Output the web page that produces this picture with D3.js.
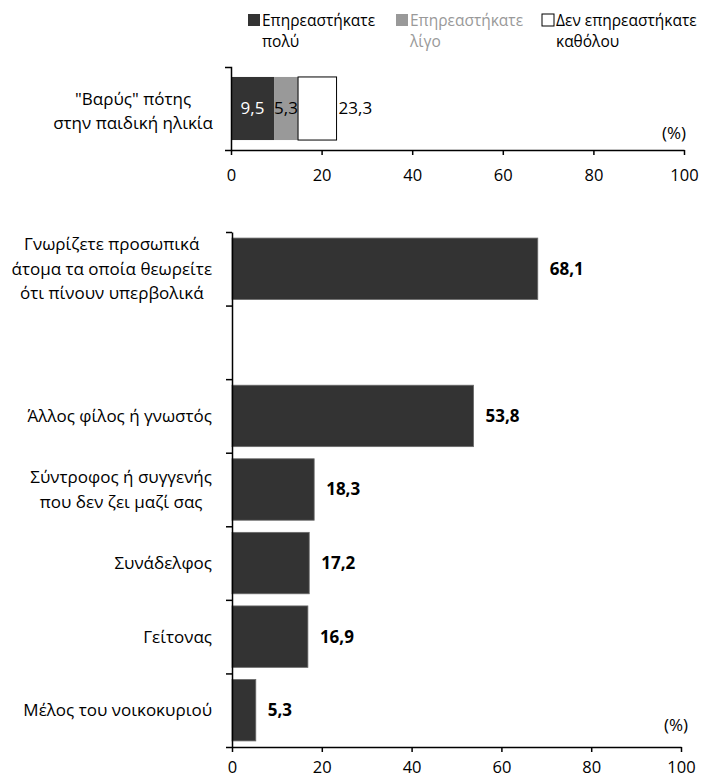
<!DOCTYPE html>
<html>
<head>
<meta charset="utf-8">
<script src="https://cdn.jsdelivr.net/npm/d3@7/dist/d3.min.js"></script>
<style>
  html, body { margin: 0; padding: 0; background: #fff; }
  svg text { font-family: "Open Sans", "Noto Sans", sans-serif; fill: #000; }
</style>
</head>
<body>
<svg id="chart" width="706" height="780"></svg>
<script>
// ---- data ----
const seriesNames = [["Επηρεαστήκατε", "πολύ"], ["Επηρεαστήκατε", "λίγο"], ["Δεν επηρεαστήκατε", "καθόλου"]];
const topCategory = ["\"Βαρύς\" πότης", "στην παιδική ηλικία"];
const affectedMuch = [9.5];
const affectedLittle = [5.3];
const notAffected = [8.5];

const categories = [
  ["Γνωρίζετε προσωπικά", "άτομα τα οποία θεωρείτε", "ότι πίνουν υπερβολικά"],
  [],
  ["Άλλος φίλος ή γνωστός"],
  ["Σύντροφος ή συγγενής", "που δεν ζει μαζί σας"],
  ["Συνάδελφος"],
  ["Γείτονας"],
  ["Μέλος του νοικοκυριού"]
];
const shares = [68.1, null, 53.8, 18.3, 17.2, 16.9, 5.3];
const tickValues = [0, 20, 40, 60, 80, 100];
const unitLabel = "(%)";

// ---- styling ----
const FS = 17;
const dark = "#333333", grey = "#999999";
const fmt = v => d3.format(".1f")(v).replace(".", ",");

const svg = d3.select("#chart");

function txt(g, x, y, s, o = {}) {
  const t = g.append("text")
    .attr("x", x).attr("y", y)
    .attr("font-size", o.size || FS)
    .attr("text-anchor", o.anchor || "start")
    .attr("dy", o.dy == null ? "0.35em" : o.dy)
    .text(s);
  if (o.bold) t.attr("font-weight", "bold");
  if (o.fill) t.style("fill", o.fill);
  return t;
}

// right-aligned block of centred lines
function labelBlock(g, right, cy, lines, lh) {
  const tmp = lines.map(l => txt(g, 0, 0, l, { anchor: "middle" }));
  const w = d3.max(tmp, t => t.node().getComputedTextLength()) || 0;
  tmp.forEach(t => t.remove());
  const cx = right - w / 2;
  lines.forEach((l, i) => txt(g, cx, cy + (i - (lines.length - 1) / 2) * lh, l, { anchor: "middle" }));
}

function styleAxis(g) {
  g.select(".domain").attr("stroke", "#000").attr("stroke-width", 1.5);
  g.selectAll(".tick line").attr("stroke", "#000").attr("stroke-width", 1.5);
  g.selectAll(".tick text")
    .attr("font-size", 16.5)
    .attr("font-family", "\"Open Sans\", sans-serif");
}

// ---- legend ----
const legX = [248, 396, 542];
const legFill = [dark, grey, "#fff"];
const legText = ["#000", grey, "#000"];
seriesNames.forEach((n, i) => {
  svg.append("rect").attr("x", legX[i]).attr("y", 14).attr("width", 12).attr("height", 12)
    .attr("fill", legFill[i]).attr("stroke", i === 2 ? "#000" : "none").attr("stroke-width", 1);
  n.forEach((line, j) => txt(svg, legX[i] + 14, 26 + j * 21, line, { size: 15.5, dy: 0, fill: legText[i] }));
});

// ---- upper panel: stacked bar ----
const xTop = d3.scaleLinear().domain([0, 100]).range([231, 684]);
const yTop = d3.scaleBand().domain([0]).range([67, 150]).paddingInner(0.24).paddingOuter(0.12);
const upper = svg.append("g");

const stackData = [{ much: affectedMuch[0], little: affectedLittle[0], none: notAffected[0] }];
const stacked = d3.stack().keys(["much", "little", "none"])(stackData);
const segFill = [dark, grey, "#fff"];
stacked.forEach((layer, i) => {
  layer.forEach(d => {
    upper.append("rect")
      .attr("x", xTop(d[0])).attr("width", xTop(d[1]) - xTop(d[0]))
      .attr("y", yTop(0)).attr("height", yTop.bandwidth())
      .attr("fill", segFill[i])
      .attr("stroke", i === 2 ? "#000" : "none").attr("stroke-width", 1);
  });
});
const cyTop = yTop(0) + yTop.bandwidth() / 2;
txt(upper, xTop(affectedMuch[0] / 2), cyTop, fmt(affectedMuch[0]), { anchor: "middle", fill: "#fff" });
txt(upper, xTop(affectedMuch[0] + affectedLittle[0] / 2), cyTop, fmt(affectedLittle[0]), { anchor: "middle" });
const total = affectedMuch[0] + affectedLittle[0] + notAffected[0];
txt(upper, xTop(total) + 2, cyTop, fmt(total));

upper.append("g").attr("transform", "translate(0,150)")
  .call(d3.axisBottom(xTop).tickValues(tickValues).tickSize(5).tickSizeOuter(0).tickPadding(14))
  .call(styleAxis);
upper.append("g").attr("transform", `translate(${xTop(0)},0)`)
  .call(d3.axisLeft(d3.scaleLinear().range([67, 150])).tickValues([]).tickSizeOuter(6))
  .call(styleAxis);
labelBlock(upper, 213, cyTop + 3, topCategory, 24);
txt(upper, 686, 133, unitLabel, { anchor: "end" });

// ---- lower panel ----
const xB = d3.scaleLinear().domain([0, 100]).range([232, 681]);
const yB = d3.scaleBand().domain(d3.range(categories.length)).range([232, 747]).paddingInner(0.165).paddingOuter(0.0825);
const lower = svg.append("g");

shares.forEach((v, i) => {
  if (v == null) return;
  lower.append("rect")
    .attr("x", xB(0)).attr("width", xB(v) - xB(0))
    .attr("y", yB(i)).attr("height", yB.bandwidth())
    .attr("fill", dark).attr("stroke", "#6a6a6a").attr("stroke-width", 0.8);
  txt(lower, xB(v) + 12, yB(i) + yB.bandwidth() / 2, fmt(v), { bold: true });
});

categories.forEach((lines, i) => {
  if (!lines.length) return;
  labelBlock(lower, 212, yB(i) + yB.bandwidth() / 2, lines, 24.5);
});

lower.append("g").attr("transform", "translate(0,747)")
  .call(d3.axisBottom(xB).tickValues(tickValues).tickSize(5).tickSizeOuter(0).tickPadding(9))
  .call(styleAxis);
// category boundary ticks on the vertical axis
const bounds = d3.range(categories.length + 1).map(i => 232 + i * yB.step());
const yAxisScale = d3.scaleLinear().domain([0, 1]).range([232, 747]);
lower.append("g").attr("transform", `translate(${xB(0)},0)`)
  .call(d3.axisLeft(yAxisScale).tickValues(bounds.map(yAxisScale.invert)).tickFormat("").tickSize(6).tickSizeOuter(0))
  .call(styleAxis);
txt(lower, 688, 725, unitLabel, { anchor: "end" });
</script>
</body>
</html>
